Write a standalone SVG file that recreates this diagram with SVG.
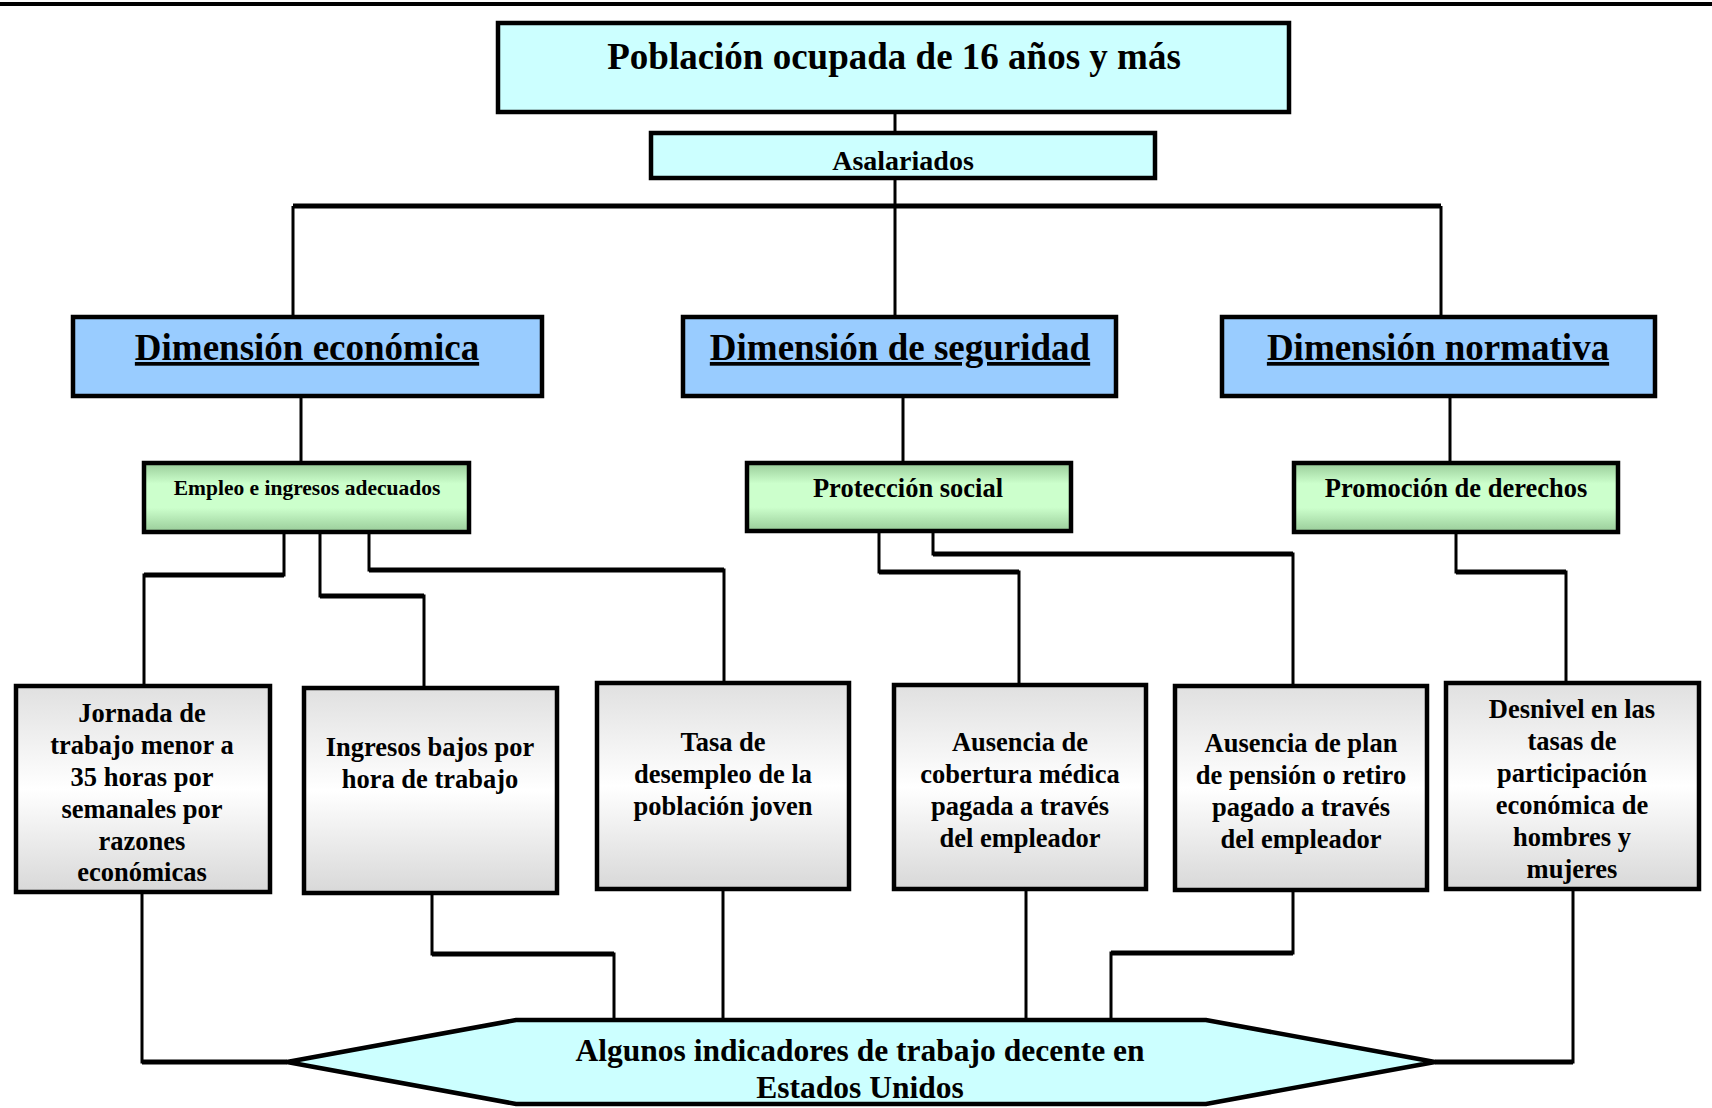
<svg xmlns="http://www.w3.org/2000/svg" width="1712" height="1108" viewBox="0 0 1712 1108">
<style>
text{font-family:"Liberation Serif","Times New Roman",serif;font-weight:bold;fill:#000;text-anchor:middle}
.box{stroke:#000;stroke-width:4.5}
.cyan{fill:#CCFFFF}
.blue{fill:#99CCFF}
.green{fill:url(#gGreen)}
.gray{fill:url(#gGray)}
.c{fill:none;stroke:#000;stroke-width:3}
.h{fill:none;stroke:#000;stroke-width:5}
.title{font-size:37px}
.dim{font-size:37px;text-decoration:underline}
.t24{font-size:26.5px}
</style>
<defs>
<linearGradient id="gGreen" x1="0" y1="0" x2="0" y2="1">
<stop offset="0" stop-color="#99CC99"/>
<stop offset="0.3" stop-color="#CCFFCC"/>
<stop offset="0.65" stop-color="#CCFFCC"/>
<stop offset="1" stop-color="#99CC99"/>
</linearGradient>
<linearGradient id="gGray" x1="0" y1="0" x2="0" y2="1">
<stop offset="0" stop-color="#E0E0E0"/>
<stop offset="0.5" stop-color="#FFFFFF"/>
<stop offset="1" stop-color="#D8D8D8"/>
</linearGradient>
</defs>
<rect width="1712" height="1108" fill="#fff"/>
<line x1="0" y1="4" x2="1712" y2="4" stroke="#000" stroke-width="4"/>

<g id="connectors">
<path class="c" d="M895 112V133"/>
<path class="c" d="M895 178V206"/>
<path class="c" d="M293 317V206M895 206V317M1441 206V317"/>
<line class="h" x1="293" y1="206" x2="1441" y2="206"/>
<path class="c" d="M301 396V463M903 396V463M1450 396V463"/>
<path class="c" d="M284 532V575H144V686"/>
<line class="h" x1="284" y1="575" x2="144" y2="575"/>
<path class="c" d="M320 532V596H424V688"/>
<line class="h" x1="320" y1="596" x2="424" y2="596"/>
<path class="c" d="M369 532V570H724V683"/>
<line class="h" x1="369" y1="570" x2="724" y2="570"/>
<path class="c" d="M879 531V572H1019V685"/>
<line class="h" x1="879" y1="572" x2="1019" y2="572"/>
<path class="c" d="M933 531V554H1293V686"/>
<line class="h" x1="933" y1="554" x2="1293" y2="554"/>
<path class="c" d="M1456 532V572H1566V683"/>
<line class="h" x1="1456" y1="572" x2="1566" y2="572"/>
<path class="c" d="M142 892V1062H287"/>
<line class="h" x1="142" y1="1062" x2="287" y2="1062"/>
<path class="c" d="M432 893V954H614V1020"/>
<line class="h" x1="432" y1="954" x2="614" y2="954"/>
<path class="c" d="M723 889V1020"/>
<path class="c" d="M1026 889V1020"/>
<path class="c" d="M1293 890V953H1111V1020"/>
<line class="h" x1="1293" y1="953" x2="1111" y2="953"/>
<path class="c" d="M1573 889V1062H1435"/>
<line class="h" x1="1573" y1="1062" x2="1435" y2="1062"/>
</g>

<g id="n-poblacion">
<rect class="box cyan" x="498" y="23" width="791" height="89"/>
<text class="title" x="894" y="69">Población ocupada de 16 años y más</text>
</g>
<g id="n-asalariados">
<rect class="box cyan" x="651" y="133" width="504" height="45"/>
<text x="903" y="170" font-size="28">Asalariados</text>
</g>

<g id="n-dim-economica">
<rect class="box blue" x="73" y="317" width="469" height="79"/>
<text class="dim" x="307" y="360">Dimensión económica</text>
</g>
<g id="n-dim-seguridad">
<rect class="box blue" x="683" y="317" width="433" height="79"/>
<text class="dim" x="900" y="360">Dimensión de seguridad</text>
</g>
<g id="n-dim-normativa">
<rect class="box blue" x="1222" y="317" width="433" height="79"/>
<text class="dim" x="1438" y="360">Dimensión normativa</text>
</g>

<g id="n-empleo">
<rect class="box green" x="144" y="463" width="325" height="69"/>
<text x="307" y="495" font-size="21.5">Empleo e ingresos adecuados</text>
</g>
<g id="n-proteccion">
<rect class="box green" x="747" y="463" width="324" height="68"/>
<text x="908" y="497" font-size="26.5">Protección social</text>
</g>
<g id="n-promocion">
<rect class="box green" x="1294" y="463" width="324" height="69"/>
<text x="1456" y="497" font-size="26.5">Promoción de derechos</text>
</g>

<g id="n-jornada">
<rect class="box gray" x="16" y="686" width="254" height="206"/>
<text class="t24" x="142" y="722">Jornada de</text>
<text class="t24" x="142" y="754">trabajo menor a</text>
<text class="t24" x="142" y="786">35 horas por</text>
<text class="t24" x="142" y="818">semanales por</text>
<text class="t24" x="142" y="850">razones</text>
<text class="t24" x="142" y="881">económicas</text>
</g>
<g id="n-ingresos">
<rect class="box gray" x="304" y="688" width="253" height="205"/>
<text class="t24" x="430" y="756">Ingresos bajos por</text>
<text class="t24" x="430" y="788">hora de trabajo</text>
</g>
<g id="n-tasa">
<rect class="box gray" x="597" y="683" width="252" height="206"/>
<text class="t24" x="723" y="751">Tasa de</text>
<text class="t24" x="723" y="783">desempleo de la</text>
<text class="t24" x="723" y="815">población joven</text>
</g>
<g id="n-medica">
<rect class="box gray" x="894" y="685" width="252" height="204"/>
<text class="t24" x="1020" y="751">Ausencia de</text>
<text class="t24" x="1020" y="783">cobertura médica</text>
<text class="t24" x="1020" y="815">pagada a través</text>
<text class="t24" x="1020" y="847">del empleador</text>
</g>
<g id="n-pension">
<rect class="box gray" x="1175" y="686" width="252" height="204"/>
<text class="t24" x="1301" y="752">Ausencia de plan</text>
<text class="t24" x="1301" y="784">de pensión o retiro</text>
<text class="t24" x="1301" y="816">pagado a través</text>
<text class="t24" x="1301" y="848">del empleador</text>
</g>
<g id="n-desnivel">
<rect class="box gray" x="1446" y="683" width="253" height="206"/>
<text class="t24" x="1572" y="718">Desnivel en las</text>
<text class="t24" x="1572" y="750">tasas de</text>
<text class="t24" x="1572" y="782">participación</text>
<text class="t24" x="1572" y="814">económica de</text>
<text class="t24" x="1572" y="846">hombres y</text>
<text class="t24" x="1572" y="878">mujeres</text>
</g>

<g id="n-indicadores">
<polygon class="box cyan" points="516,1020 1206,1020 1435,1062 1206,1104 516,1104 287,1062"/>
<text x="860" y="1061" font-size="31.5">Algunos indicadores de trabajo decente en</text>
<text x="860" y="1098" font-size="31.5">Estados Unidos</text>
</g>
</svg>
